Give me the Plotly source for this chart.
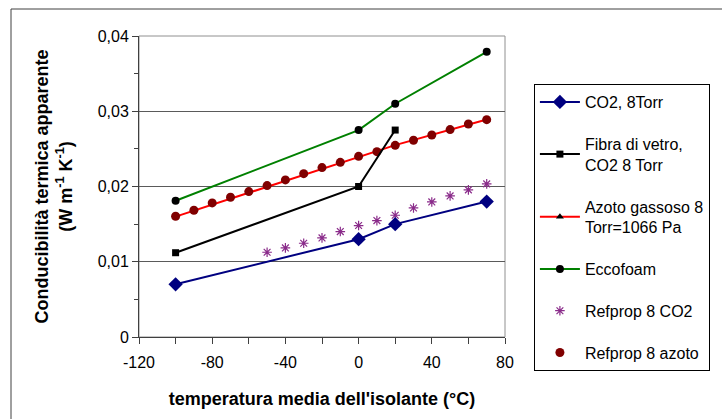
import plotly.graph_objects as go

# ---- data ----
co2_x = [-100, 0, 20, 70]
co2_y = [0.0070, 0.0130, 0.0150, 0.0180]

fibra_x = [-100, 0, 20]
fibra_y = [0.0112, 0.0200, 0.0275]

azoto_x = [-100, 0, 20, 70]
azoto_y = [0.0160, 0.0240, 0.0255, 0.0289]

ecco_x = [-100, 0, 20, 70]
ecco_y = [0.0181, 0.0275, 0.0310, 0.0379]

ref_co2_x = [-50, -40, -30, -20, -10, 0, 10, 20, 30, 40, 50, 60, 70]
ref_co2_y = [0.01126, 0.01184, 0.01246, 0.01317, 0.01401, 0.01481, 0.01547,
             0.01618, 0.01715, 0.01795, 0.01875, 0.01955, 0.02035]

ref_az_x = [-100, -90, -80, -70, -60, -50, -40, -30, -20, -10, 0, 10, 20, 30, 40, 50, 60, 70]
ref_az_y = [0.01604, 0.01684, 0.01782, 0.01857, 0.01932, 0.02012, 0.02088, 0.02171,
            0.02251, 0.02321, 0.02401, 0.02463, 0.02547, 0.02614, 0.02685, 0.02756,
            0.02831, 0.02888]

names = ["CO2, 8Torr", "Fibra di vetro,<br>CO2 8 Torr", "Azoto gassoso 8<br>Torr=1066 Pa",
         "Eccofoam", "Refprop 8 CO2", "Refprop 8 azoto"]

x_tick_vals = [-120, -80, -40, 0, 40, 80]
x_tick_text = ["-120", "-80", "-40", "0", "40", "80"]

FONT = "Liberation Sans, Arial, sans-serif"

fig = go.Figure()

fig.add_trace(go.Scatter(x=azoto_x, y=azoto_y, mode="lines+markers", name=names[2],
                         line=dict(color="#ff0000", width=2),
                         marker=dict(symbol="triangle-up", size=7, color="black"),
                         legendgroup="g3", legendrank=3))
fig.add_trace(go.Scatter(x=ref_az_x, y=ref_az_y, mode="markers", name=names[5],
                         marker=dict(symbol="circle", size=9, color="#800000"),
                         legendgroup="g6", legendrank=6))
fig.add_trace(go.Scatter(x=ecco_x, y=ecco_y, mode="lines+markers", name=names[3],
                         line=dict(color="#008000", width=2),
                         marker=dict(symbol="circle", size=8, color="black"),
                         legendgroup="g4", legendrank=4))
fig.add_trace(go.Scatter(x=fibra_x, y=fibra_y, mode="lines+markers", name=names[1],
                         line=dict(color="black", width=2),
                         marker=dict(symbol="square", size=7, color="black"),
                         legendgroup="g2", legendrank=2))
fig.add_trace(go.Scatter(x=ref_co2_x, y=ref_co2_y, mode="markers", name=names[4],
                         marker=dict(symbol="asterisk-open", size=8, color="#8a2b8a",
                                     line=dict(color="#8a2b8a", width=1.2)),
                         legendgroup="g5", legendrank=5))
fig.add_trace(go.Scatter(x=co2_x, y=co2_y, mode="lines+markers", name=names[0],
                         line=dict(color="#000080", width=2),
                         marker=dict(symbol="diamond", size=11, color="#000080"),
                         legendgroup="g1", legendrank=1))

fig.update_layout(
    width=722, height=419,
    margin=dict(l=139, r=217, t=36, b=82),
    paper_bgcolor="white", plot_bgcolor="white",
    separators=",.",
    font=dict(family=FONT, size=16, color="black"),
    showlegend=True,
    legend=dict(x=1.079, y=0.8405, xanchor="left", yanchor="top",
                bordercolor="black", borderwidth=1, bgcolor="white",
                traceorder="grouped", tracegroupgap=18,
                font=dict(family=FONT, size=16, color="black"), itemwidth=40),
    shapes=[
        dict(type="rect", xref="paper", yref="paper", x0=0, x1=1, y0=0, y1=1,
             line=dict(color="#909090", width=1), layer="below"),
        dict(type="rect", xref="paper", yref="paper", x0=-0.3497, x1=1.8, y0=-0.6, y1=1.0897,
             line=dict(color="#404040", width=1), layer="below"),
    ],
)

fig.update_xaxes(range=[-120, 80], tickvals=x_tick_vals, ticktext=x_tick_text,
                 showgrid=False, zeroline=False,
                 showline=True, linecolor="#404040", linewidth=1,
                 ticks="outside", ticklen=6, tickcolor="#404040",
                 minor=dict(dtick=20, tick0=-120, ticks="outside", ticklen=6, tickcolor="#404040"),
                 tickfont=dict(size=16), ticklabelstandoff=5,
                 title=dict(text="<b>temperatura media dell'isolante (°C)</b>",
                            font=dict(size=18), standoff=22))

fig.update_yaxes(range=[0, 0.04], dtick=0.01, showgrid=True, gridcolor="#5a5a5a", gridwidth=1,
                 zeroline=False, showline=True, linecolor="#404040", linewidth=1,
                 ticks="outside", ticklen=6, tickcolor="#404040",
                 minor=dict(dtick=0.005, ticks="outside", ticklen=4, tickcolor="#404040",
                            showgrid=False),
                 tickfont=dict(size=16),
                 title=dict(text="<b>Conducibilità termica apparente<br>(W m<sup>-1</sup> K<sup>-1</sup>)</b>",
                            font=dict(size=18), standoff=20))

fig.write_html("out.html")
